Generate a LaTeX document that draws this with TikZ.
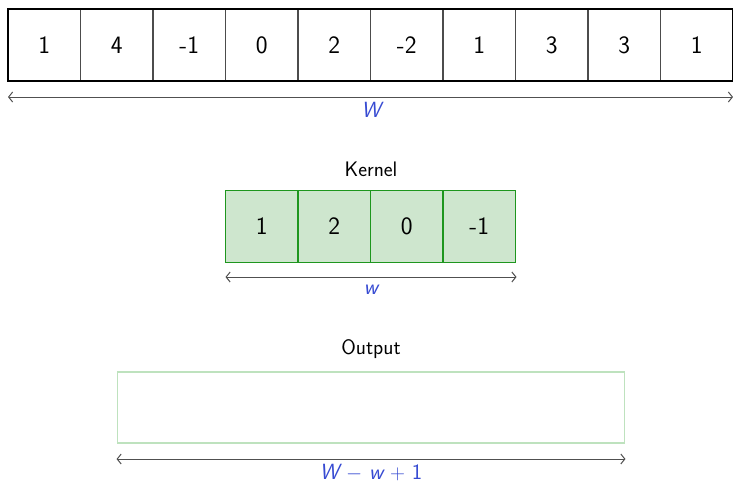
\documentclass[tikz,border=0pt]{standalone}
\usetikzlibrary{arrows.meta}
\renewcommand{\familydefault}{\sfdefault}
\definecolor{kfill}{RGB}{206,230,206}
\definecolor{kdraw}{RGB}{30,150,30}
\definecolor{odraw}{RGB}{190,226,190}
\definecolor{lblue}{RGB}{55,75,210}
\definecolor{arrgray}{RGB}{80,80,80}
\begin{document}
\begin{tikzpicture}[x=1pt,y=-1pt,
  cell/.style={minimum width=72.5pt,minimum height=72pt,inner sep=0pt,outer sep=0pt,font=\fontsize{25}{30}\selectfont},
  kcell/.style={fill=kfill,minimum width=72.5pt,minimum height=72pt,inner sep=0pt,outer sep=0pt,font=\fontsize{25}{30}\selectfont},
  sep/.style={draw=black!70,line width=1.6pt},
  ksep/.style={draw=kdraw,line width=1.8pt},
  dim/.style={draw=arrgray,line width=1pt,{Straight Barb[length=4pt,width=10pt]}-{Straight Barb[length=4pt,width=10pt]}},
  dimlbl/.style={text=lblue,font=\fontsize{22}{26}\selectfont\itshape,inner sep=0pt},
  title/.style={font=\fontsize{21}{25}\selectfont,inner sep=0pt}]
\useasboundingbox (0,0) rectangle (733,483);
% input row
\foreach \v [count=\i] in {1,4,-1,0,2,-2,1,3,3,1}{
  \node[cell] (c\i) at ({8+72.5*(\i-0.5)},45) {\v};
}
\foreach \i in {1,...,9}{
  \draw[sep] (c\i.north east) -- (c\i.south east);
}
\draw[black,line width=2.4pt] (c1.north west) rectangle (c10.south east);
\coordinate (a1) at (8,97);
\coordinate (a2) at (733,97);
\draw[dim] (a1) -- (a2);
\node[dimlbl] (lW) at (371,110) {W};
% kernel
\node[title] (kt) at (371,169) {Kernel};
\foreach \v [count=\i] in {1,2,0,-1}{
  \node[kcell] (k\i) at ({225.5+72.5*(\i-0.5)},226.5) {\v};
}
\foreach \i in {1,2,3}{
  \draw[ksep] (k\i.north east) -- (k\i.south east);
}
\draw[ksep] (k1.north west) rectangle (k4.south east);
\coordinate (b1) at (225.5,277);
\coordinate (b2) at (516.5,277);
\draw[dim] (b1) -- (b2);
\node[dimlbl] (lw) at (371,290) {w};
% output
\node[title] (ot) at (371,349) {Output};
\node[draw=odraw,line width=1.4pt,minimum width=507.5pt,minimum height=71pt,inner sep=0pt] (out) at (371,407.5) {};
\coordinate (o1) at (out.west |- 0,459);
\coordinate (o2) at (out.east |- 0,459);
\draw[dim] (o1) -- (o2);
\node[dimlbl] (lo) at (371,473) {W $-$ w $+$ \upshape 1};
\end{tikzpicture}
\end{document}
